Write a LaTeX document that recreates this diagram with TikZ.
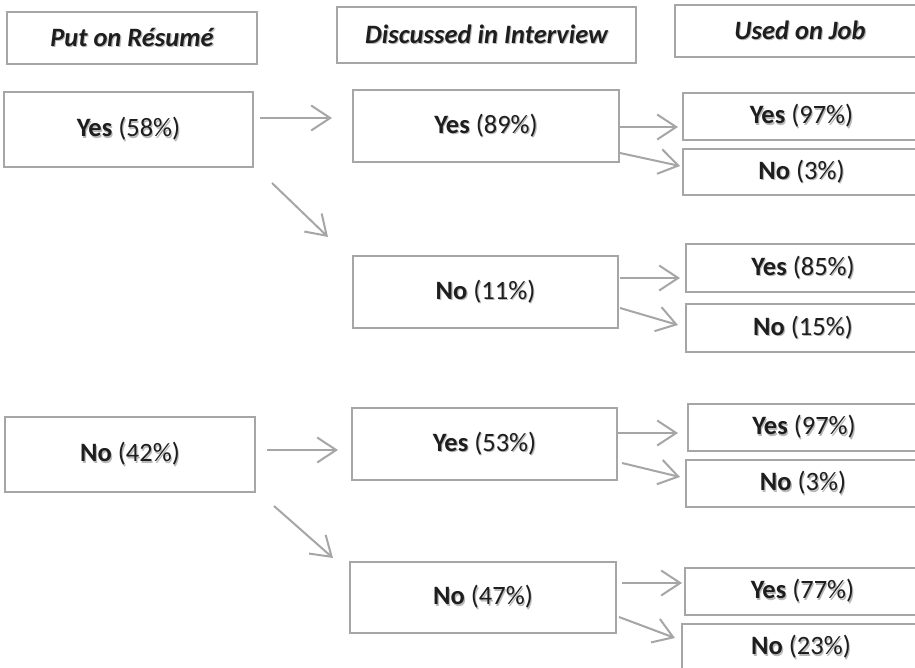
\documentclass[tikz,border=0pt]{standalone}
\usepackage{fontspec}
\setmainfont{Carlito}
\usetikzlibrary{arrows.meta}
\definecolor{boxgray}{HTML}{A6A6A6}
\definecolor{txt}{HTML}{1E1E1E}
\tikzset{
  box/.style={draw=boxgray, line width=2.6pt, fill=none, inner sep=0pt, outer sep=0pt,
    text=txt, font=\fontsize{26.5}{30}\selectfont},
  hdr/.style={box, font=\fontsize{26.5}{30}\selectfont\bfseries\itshape},
  arr/.style={draw=boxgray, line width=2pt, -{Straight Barb[length=19pt, width=25pt]}},
}
\newcommand{\shd}[1]{\makebox[0pt][l]{\hspace{1.1pt}\raisebox{-1.3pt}{\textcolor{black!28}{#1}}}#1}
\newcommand{\ans}[2]{\shd{\textbf{#1} (#2)}}
\begin{document}
\begin{tikzpicture}[x=1pt, y=-1pt]
\clip (0,0) rectangle (915,668);
\fill[white] (0,0) rectangle (915,668);
% headers
\node[hdr, minimum width=250pt, minimum height=52pt] (H1) at (132,38) {\shd{Put on Résumé}};
\node[hdr, minimum width=299pt, minimum height=56pt] (H2) at (486.5,35) {\shd{Discussed in Interview}};
\node[hdr, minimum width=250pt, minimum height=52pt] (H3) at (800,31) {\shd{Used on Job}};
% column 1
\node[box, minimum width=249pt, minimum height=75pt] (A1) at (128.5,129.5) {\ans{Yes}{58\%}};
\node[box, minimum width=250pt, minimum height=75pt] (A2) at (130,454.5) {\ans{No}{42\%}};
% column 2
\node[box, minimum width=266pt, minimum height=72pt] (B1) at (486,126) {\ans{Yes}{89\%}};
\node[box, minimum width=265pt, minimum height=72pt] (B2) at (485.5,292) {\ans{No}{11\%}};
\node[box, minimum width=265pt, minimum height=72pt] (B3) at (484.5,444) {\ans{Yes}{53\%}};
\node[box, minimum width=266pt, minimum height=71pt] (B4) at (483,597.5) {\ans{No}{47\%}};
% column 3
\node[box, minimum width=237pt, minimum height=47pt] (C1) at (801.5,116.5) {\ans{Yes}{97\%}};
\node[box, minimum width=237pt, minimum height=46pt] (C2) at (801.5,172) {\ans{No}{3\%}};
\node[box, minimum width=234pt, minimum height=48pt] (C3) at (803,268) {\ans{Yes}{85\%}};
\node[box, minimum width=234pt, minimum height=48pt] (C4) at (803,328) {\ans{No}{15\%}};
\node[box, minimum width=232pt, minimum height=47pt] (C5) at (804,427.5) {\ans{Yes}{97\%}};
\node[box, minimum width=234pt, minimum height=47pt] (C6) at (803,483.5) {\ans{No}{3\%}};
\node[box, minimum width=235pt, minimum height=47pt] (C7) at (802.5,591.5) {\ans{Yes}{77\%}};
\node[box, minimum width=238pt, minimum height=47pt] (C8) at (801,647.5) {\ans{No}{23\%}};
% arrows
\draw[arr] ([shift={(7,-11.5)}]A1.east) -- ([shift={(-21,-8)}]B1.west);
\draw[arr] ([shift={(19,16)}]A1.south east) -- ([shift={(-25,-19)}]B2.north west);
\draw[arr] ([shift={(12,-4.5)}]A2.east) -- ([shift={(-14,6)}]B3.west);
\draw[arr] ([shift={(19,14)}]A2.south east) -- ([shift={(-17,-4)}]B4.north west);
\draw[arr] ([shift={(1,1)}]B1.east) -- ([shift={(-5,10.5)}]C1.west);
\draw[arr] ([shift={(1,27)}]B1.east) -- ([shift={(-3,-6)}]C2.west);
\draw[arr] ([shift={(2,-14)}]B2.east) -- ([shift={(-6,10)}]C3.west);
\draw[arr] ([shift={(2,16)}]B2.east) -- ([shift={(-8,-3)}]C4.west);
\draw[arr] ([shift={(1,-11)}]B3.east) -- ([shift={(-10,5.5)}]C5.west);
\draw[arr] ([shift={(5,19)}]B3.east) -- ([shift={(-6,-6.5)}]C6.west);
\draw[arr] ([shift={(6,-14.5)}]B4.east) -- ([shift={(-3,-8.5)}]C7.west);
\draw[arr] ([shift={(3,19.5)}]B4.east) -- ([shift={(-7,-9.5)}]C8.west);
\end{tikzpicture}
\end{document}
